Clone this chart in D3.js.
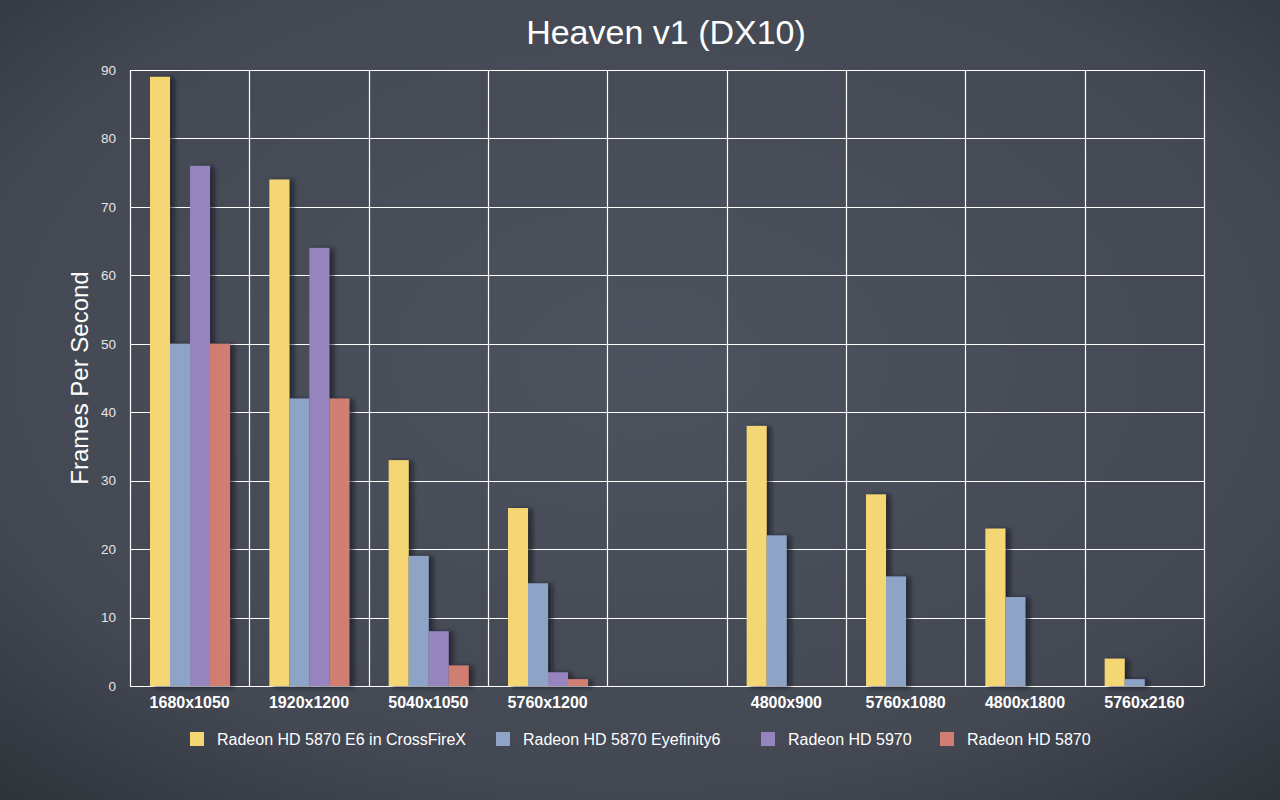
<!DOCTYPE html>
<html>
<head>
<meta charset="utf-8">
<script src="https://d3js.org/d3.v7.min.js"></script>
<style>
  body { margin: 0; background: #40454f; }
  svg { display: block; font-family: "Liberation Sans", Arial, sans-serif; }
</style>
</head>
<body>
<svg width="1280" height="800"></svg>
<script>
    // chart values
    const categories = ['1680x1050', '1920x1200', '5040x1050', '5760x1200', '', '4800x900', '5760x1080', '4800x1800', '5760x2160'];
    const seriesNames = ['Radeon HD 5870 E6 in CrossFireX', 'Radeon HD 5870 Eyefinity6', 'Radeon HD 5970', 'Radeon HD 5870'];
    const crossfire = [89, 74, 33, 26, null, 38, 28, 23, 4];
    const eyefinity = [50, 42, 19, 15, null, 22, 16, 13, 1];
    const hd5970 = [76, 64, 8, 2, null, null, null, null, null];
    const hd5870 = [50, 42, 3, 1, null, null, null, null, null];
    const yTicks = [0, 10, 20, 30, 40, 50, 60, 70, 80, 90];
    const colors = ['#f4d674', '#8ea4c7', '#9684bf', '#d07d72'];

    const series = [crossfire, eyefinity, hd5970, hd5870];
    const svg = d3.select('svg');

    // chalkboard background
    const defs = svg.append('defs');
    const bg = defs.append('radialGradient').attr('id', 'bg')
        .attr('cx', '50%').attr('cy', '45%').attr('r', '75%');
    bg.append('stop').attr('offset', '0%').attr('stop-color', '#4d535e');
    bg.append('stop').attr('offset', '70%').attr('stop-color', '#434853');
    bg.append('stop').attr('offset', '100%').attr('stop-color', '#2e3239');
    const shadow = defs.append('filter').attr('id', 'shadow')
        .attr('x', '-20%').attr('y', '-5%').attr('width', '160%').attr('height', '115%');
    shadow.append('feDropShadow').attr('dx', 4).attr('dy', 1).attr('stdDeviation', 2.5)
        .attr('flood-color', '#15181d').attr('flood-opacity', 0.7);

    svg.append('rect').attr('width', 1280).attr('height', 800).attr('fill', 'url(#bg)');

    const plotLeft = 130, plotRight = 1204, plotTop = 70, plotBottom = 686;

    const x = d3.scaleBand().domain(d3.range(categories.length)).range([plotLeft, plotRight]).padding(0);
    const xInner = d3.scaleBand().domain(d3.range(series.length)).range([20, x.bandwidth() - 19.3]);
    const y = d3.scaleLinear().domain([0, 90]).range([plotBottom, plotTop]);

    // grid
    const grid = svg.append('g').attr('stroke', '#ffffff').attr('stroke-width', 1.2);
    grid.selectAll('line.h').data(yTicks).enter().append('line')
        .attr('x1', plotLeft).attr('x2', plotRight)
        .attr('y1', d => Math.round(y(d)) + 0.5).attr('y2', d => Math.round(y(d)) + 0.5);
    grid.selectAll('line.v').data(d3.range(categories.length + 1)).enter().append('line')
        .attr('y1', plotTop).attr('y2', plotBottom)
        .attr('x1', d => Math.round(d < categories.length ? x(d) : plotRight) + 0.5)
        .attr('x2', d => Math.round(d < categories.length ? x(d) : plotRight) + 0.5);

    // bars
    const bars = svg.append('g').attr('filter', 'url(#shadow)');
    series.forEach(function (vals, s) {
        bars.selectAll('rect.s' + s).data(vals.map((v, i) => ({ v: v, i: i })).filter(d => d.v != null))
            .enter().append('rect')
            .attr('x', d => x(d.i) + xInner(s))
            .attr('width', xInner.bandwidth())
            .attr('y', d => y(d.v))
            .attr('height', d => y(0) - y(d.v))
            .attr('fill', colors[s]);
    });

    // y axis
    const yAxis = svg.append('g').attr('transform', 'translate(116,0)')
        .call(d3.axisLeft(y).tickValues(yTicks).tickSize(0).tickPadding(0));
    yAxis.select('.domain').remove();
    yAxis.selectAll('text').attr('fill', '#e6e6e6').style('font-size', '13.5px');

    // x axis
    const xAxis = svg.append('g').attr('transform', 'translate(0,' + plotBottom + ')')
        .call(d3.axisBottom(x).tickFormat(i => categories[i]).tickSize(0).tickPadding(11));
    xAxis.select('.domain').remove();
    xAxis.selectAll('text').attr('fill', '#ffffff').style('font-size', '16px').style('font-weight', 'bold');

    // title
    svg.append('text').attr('x', 666).attr('y', 44).attr('text-anchor', 'middle')
        .attr('fill', '#ffffff').style('font-size', '34px').text('Heaven v1 (DX10)');

    // y label
    svg.append('text').attr('transform', 'translate(88,378) rotate(-90)')
        .attr('text-anchor', 'middle').attr('fill', '#ffffff').style('font-size', '24px')
        .text('Frames Per Second');

    // legend
    const legendX = [190, 496, 761, 940];
    const legend = svg.append('g').selectAll('g').data(seriesNames).enter().append('g')
        .attr('transform', (d, i) => 'translate(' + legendX[i] + ',732)');
    legend.append('rect').attr('width', 14).attr('height', 14)
        .attr('fill', (d, i) => colors[i]);
    legend.append('text').attr('x', 27).attr('y', 13).attr('fill', '#ffffff')
        .style('font-size', '16px').text(d => d);
</script>
</body>
</html>
